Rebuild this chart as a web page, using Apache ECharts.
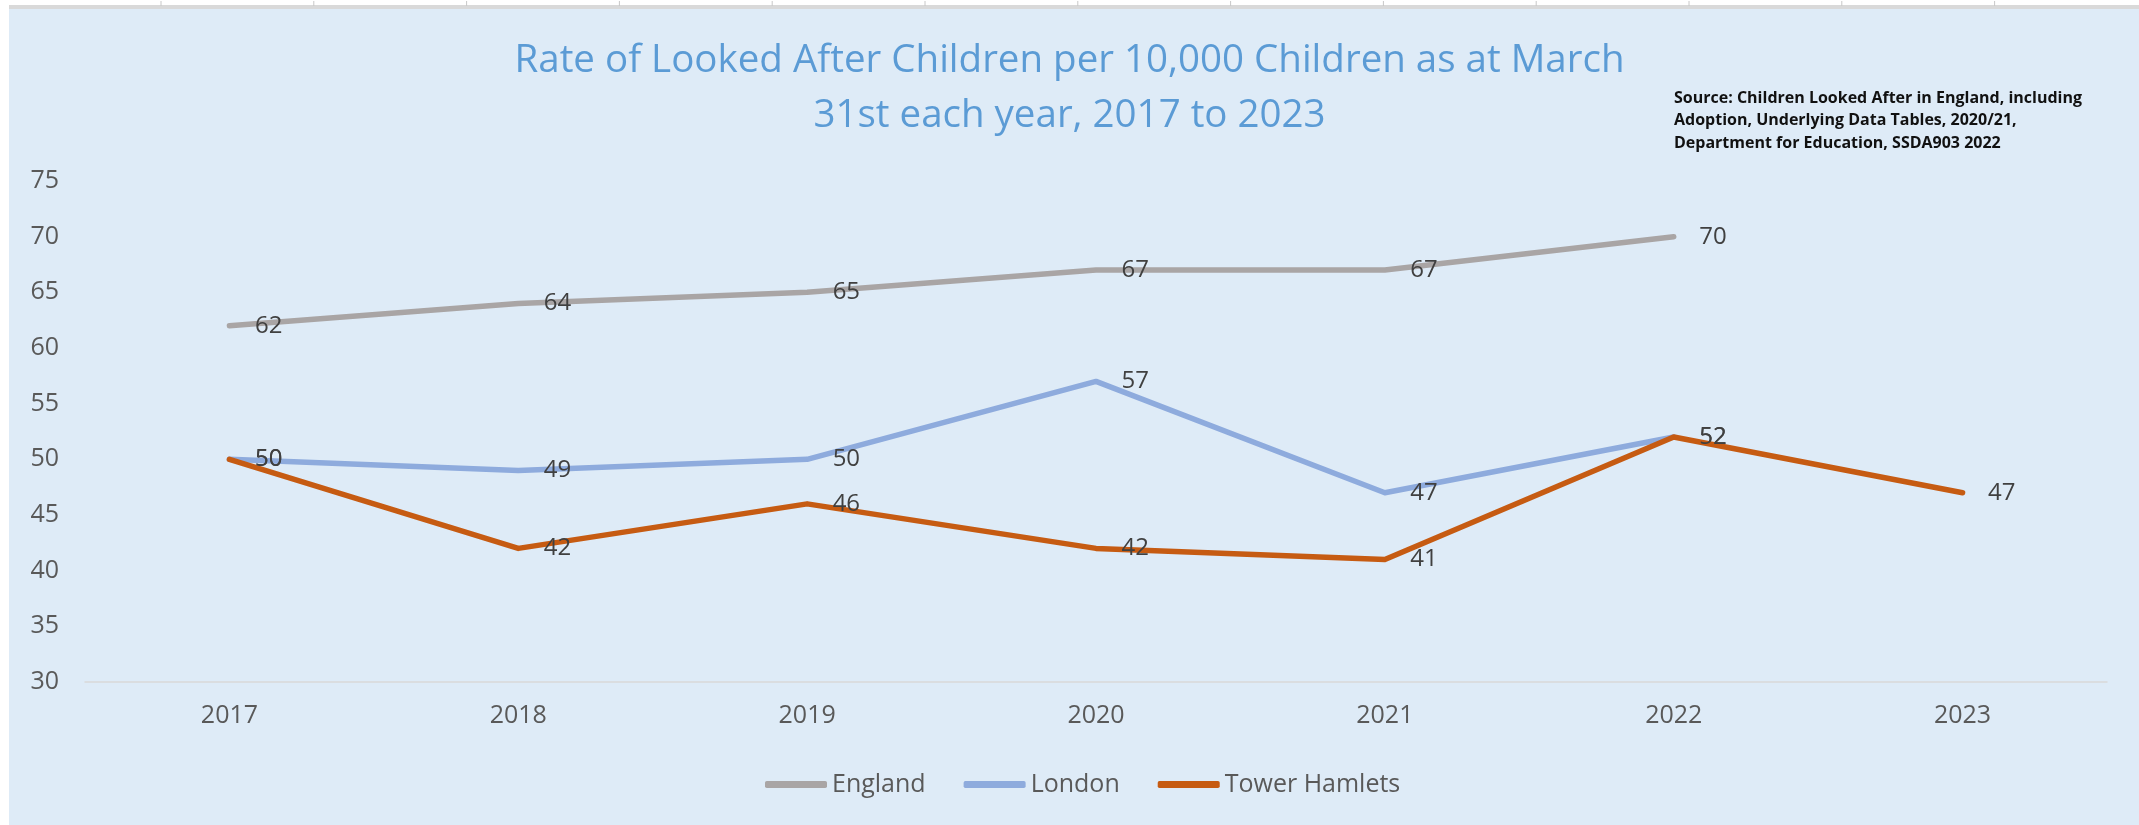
<!DOCTYPE html>
<html>
<head>
<meta charset="utf-8">
<script src="https://cdn.jsdelivr.net/npm/echarts@6/dist/echarts.min.js"></script>
<style>
    html, body {margin: 0; padding: 0; background: #ffffff;}
    #chart {width: 2139px; height: 825px;}
</style>
</head>
<body>
<div id="chart"></div>
<script>
let years = ['2017', '2018', '2019', '2020', '2021', '2022', '2023'],
    england = [62, 64, 65, 67, 67, 70, null],
    london = [50, 49, 50, 57, 47, 52, null],
    towerHamlets = [50, 42, 46, 42, 41, 52, 47],
    seriesNames = ['England', 'London', 'Tower Hamlets'],
    seriesColors = ['#a9a5a5', '#8eabdd', '#c65b12'];

let titleText = 'Rate of Looked After Children per 10,000 Children as at March\n31st each year, 2017 to 2023',
    sourceText = 'Source: Children Looked After in England, including\nAdoption, Underlying Data Tables, 2020/21,\nDepartment for Education, SSDA903 2022';

// ruler ticks along the very top (decoration from the screenshot)
let ruler = [];
for (let i = 0; i < 13; i++) {
    let x = 161 + i * 152.8;
    ruler.push({type: 'line', shape: {x1: x, y1: 1, x2: x, y2: 6}, style: {stroke: '#c8c8c8', lineWidth: 1}, silent: true});
}

let series = [england, london, towerHamlets].map((d, i) => ({
    type: 'line',
    name: seriesNames[i],
    data: d,
    symbol: 'circle',
    symbolSize: 1,
    showSymbol: true,
    itemStyle: {color: seriesColors[i]},
    lineStyle: {width: 5.5, color: seriesColors[i], cap: 'round', join: 'round'},
    label: {
        show: true,
        position: 'right',
        distance: 25,
        color: '#404040',
        fontFamily: 'Open Sans',
        fontSize: 24
    },
    emphasis: {disabled: true},
    z: 3 + i
}));

let option = {
    animation: false,
    backgroundColor: '#ffffff',
    title: {
        text: titleText,
        left: 'center',
        top: 29,
        textStyle: {
            color: '#5b9bd5',
            fontFamily: 'Open Sans',
            fontWeight: 'normal',
            fontSize: 38.5,
            lineHeight: 55
        }
    },
    legend: {
        data: seriesNames,
        left: 760,
        top: 767,
        icon: 'roundRect',
        itemWidth: 62,
        itemHeight: 7,
        itemGap: 38,
        textStyle: {color: '#595959', fontFamily: 'Open Sans', fontSize: 25}
    },
    grid: {left: 85, right: 32, top: 181, bottom: 143},
    xAxis: {
        type: 'category',
        data: years,
        boundaryGap: true,
        axisLine: {lineStyle: {color: '#d9d9d9', width: 1.5}},
        axisTick: {show: false},
        axisLabel: {color: '#595959', fontFamily: 'Open Sans', fontSize: 25, margin: 21}
    },
    yAxis: {
        type: 'value',
        min: 30,
        max: 75,
        interval: 5,
        axisLine: {show: false},
        axisTick: {show: false},
        splitLine: {show: false},
        axisLabel: {color: '#595959', fontFamily: 'Open Sans', fontSize: 25, margin: 26}
    },
    graphic: [
        {type: 'rect', shape: {x: 9, y: 9, width: 2130, height: 816}, style: {fill: '#deebf7'}, z: -10, silent: true},
        {type: 'rect', shape: {x: 9, y: 5, width: 2130, height: 4}, style: {fill: '#d9d9d9'}, z: -10, silent: true},
        {
            type: 'text',
            left: 1674,
            top: 87,
            style: {
                text: sourceText,
                fill: '#111111',
                font: 'bold 16px "Open Sans"',
                lineHeight: 22.5
            },
            silent: true
        }
    ].concat(ruler),
    series: series
};

echarts.init(document.getElementById('chart')).setOption(option);
</script>
</body>
</html>
